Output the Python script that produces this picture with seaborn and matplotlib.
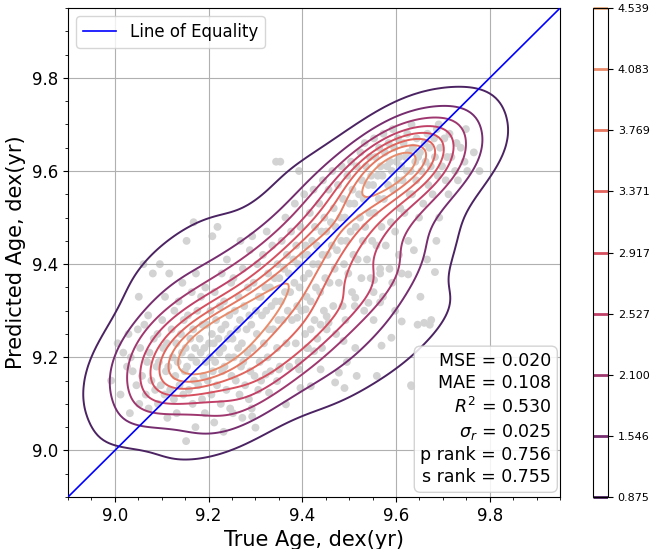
import numpy as np
import pandas as pd
import seaborn as sns
import matplotlib.pyplot as plt
from matplotlib.contour import ContourSet

# === Data (one line per 0.02-dex bin of true age) ===
true_age = [
    8.992, 9.006,
    9.012, 9.026, 9.018, 9.029,
    9.032, 9.046, 9.038, 9.049, 9.034,
    9.052, 9.066, 9.058, 9.069, 9.054, 9.063, 9.051, 9.061,
    9.072, 9.086, 9.078, 9.089, 9.074, 9.083, 9.071, 9.081,
    9.092, 9.106, 9.098, 9.109, 9.094, 9.103, 9.091, 9.101, 9.107, 9.096,
    9.112, 9.126, 9.118, 9.129, 9.114, 9.123, 9.111, 9.121, 9.127, 9.116,
    9.132, 9.146, 9.138, 9.149, 9.134, 9.143, 9.131, 9.141, 9.147, 9.136, 9.144,
    9.152, 9.166, 9.158, 9.169, 9.154, 9.163, 9.151, 9.161, 9.167, 9.156, 9.164, 9.153, 9.168,
    9.172, 9.186, 9.178, 9.189, 9.174, 9.183, 9.171, 9.181, 9.187, 9.176, 9.184, 9.173,
    9.192, 9.206, 9.198, 9.209, 9.194, 9.203, 9.191, 9.201, 9.207, 9.196, 9.204, 9.193, 9.208,
    9.212, 9.226, 9.218, 9.229, 9.214, 9.223, 9.211, 9.221, 9.227, 9.216, 9.224, 9.213, 9.228, 9.219,
    9.232, 9.246, 9.238, 9.249, 9.234, 9.243, 9.231, 9.241, 9.247, 9.236, 9.244, 9.233, 9.248, 9.239,
    9.252, 9.266, 9.258, 9.269, 9.254, 9.263, 9.251, 9.261, 9.267, 9.256, 9.264, 9.253, 9.268,
    9.272, 9.286, 9.278, 9.289, 9.274, 9.283, 9.271, 9.281, 9.287, 9.276, 9.284, 9.273, 9.288,
    9.292, 9.306, 9.298, 9.309, 9.294, 9.303, 9.291, 9.301, 9.307, 9.296, 9.304, 9.293,
    9.312, 9.326, 9.318, 9.329, 9.314, 9.323, 9.311, 9.321, 9.327, 9.316, 9.324,
    9.332, 9.346, 9.338, 9.349, 9.334, 9.343, 9.331, 9.341, 9.347, 9.336, 9.344,
    9.352, 9.366, 9.358, 9.369, 9.354, 9.363, 9.351, 9.361, 9.367, 9.356, 9.364, 9.353,
    9.372, 9.386, 9.378, 9.389, 9.374, 9.383, 9.371, 9.381, 9.387, 9.376, 9.384,
    9.392, 9.406, 9.398, 9.409, 9.394, 9.403, 9.391, 9.401, 9.407, 9.396, 9.404, 9.393,
    9.412, 9.426, 9.418, 9.429, 9.414, 9.423, 9.411, 9.421, 9.427, 9.416, 9.424,
    9.432, 9.446, 9.438, 9.449, 9.434, 9.443, 9.431, 9.441, 9.447, 9.436, 9.444,
    9.452, 9.466, 9.458, 9.469, 9.454, 9.463, 9.451, 9.461, 9.467, 9.456, 9.464,
    9.472, 9.486, 9.478, 9.489, 9.474, 9.483, 9.471, 9.481, 9.487, 9.476, 9.484,
    9.492, 9.506, 9.498, 9.509, 9.494, 9.503, 9.491, 9.501, 9.507, 9.496, 9.504,
    9.512, 9.526, 9.518, 9.529, 9.514, 9.523, 9.511, 9.521, 9.527, 9.516, 9.524,
    9.532, 9.546, 9.538, 9.549, 9.534, 9.543, 9.531, 9.541, 9.547, 9.536, 9.544, 9.533,
    9.552, 9.566, 9.558, 9.569, 9.554, 9.563, 9.551, 9.561, 9.567, 9.556, 9.564, 9.553,
    9.572, 9.586, 9.578, 9.589, 9.574, 9.583, 9.571, 9.581, 9.587, 9.576, 9.584, 9.573,
    9.592, 9.606, 9.598, 9.609, 9.594, 9.603, 9.591, 9.601, 9.607, 9.596, 9.604, 9.593,
    9.612, 9.626, 9.618, 9.629, 9.614, 9.623, 9.611, 9.621, 9.627, 9.616, 9.624,
    9.632, 9.646, 9.638, 9.649, 9.634, 9.643, 9.631, 9.641, 9.647, 9.636, 9.644, 9.633,
    9.652, 9.666, 9.658, 9.669, 9.654, 9.663, 9.651, 9.661, 9.667,
    9.672, 9.686, 9.678, 9.689, 9.674, 9.683, 9.671, 9.681, 9.687,
    9.692, 9.706, 9.698, 9.709, 9.694, 9.703, 9.691,
    9.712, 9.726, 9.718, 9.729, 9.714,
    9.732, 9.746, 9.738, 9.749,
    9.752, 9.766,
    9.778,
    # under-predicted group below the diagonal
    9.329, 9.293, 9.300, 9.393, 9.470, 9.516, 9.559, 9.490, 9.683, 9.675,
    9.660, 9.612, 9.590, 9.569, 9.513, 9.488, 9.442, 9.425, 9.410, 9.495,
    9.478, 9.439, 9.350, 9.322, 9.346, 9.396, 9.418, 9.365, 9.566, 9.633,
    9.566, 9.553, 9.626, 9.513, 9.541, 9.598, 9.552, 9.452, 9.456, 9.439,
    9.418, 9.389, 9.407,
]
pred_age = [
    9.15, 9.23,
    9.12, 9.18, 9.21, 9.25,
    9.08, 9.14, 9.17, 9.26, 9.20,
    9.10, 9.12, 9.16, 9.19, 9.22, 9.27, 9.33, 9.40,
    9.09, 9.13, 9.15, 9.18, 9.21, 9.24, 9.29, 9.38,
    9.10, 9.12, 9.14, 9.17, 9.19, 9.22, 9.25, 9.28, 9.33, 9.40,
    9.07, 9.11, 9.13, 9.16, 9.18, 9.20, 9.23, 9.26, 9.30, 9.38,
    9.08, 9.12, 9.14, 9.17, 9.19, 9.21, 9.23, 9.25, 9.28, 9.32, 9.36,
    9.02, 9.10, 9.13, 9.15, 9.18, 9.20, 9.22, 9.24, 9.26, 9.29, 9.34, 9.45, 9.49,
    9.05, 9.11, 9.14, 9.16, 9.19, 9.21, 9.22, 9.24, 9.27, 9.30, 9.33, 9.38,
    9.08, 9.12, 9.15, 9.17, 9.19, 9.20, 9.22, 9.23, 9.25, 9.27, 9.30, 9.35, 9.46,
    9.06, 9.10, 9.14, 9.17, 9.19, 9.21, 9.23, 9.24, 9.26, 9.28, 9.31, 9.34, 9.38, 9.48,
    9.04, 9.09, 9.13, 9.16, 9.18, 9.20, 9.22, 9.24, 9.25, 9.27, 9.29, 9.32, 9.36, 9.41,
    9.08, 9.12, 9.15, 9.18, 9.20, 9.22, 9.24, 9.26, 9.28, 9.30, 9.33, 9.37, 9.45,
    9.07, 9.11, 9.14, 9.17, 9.19, 9.21, 9.23, 9.26, 9.29, 9.31, 9.35, 9.39, 9.43,
    9.09, 9.13, 9.16, 9.19, 9.22, 9.25, 9.27, 9.30, 9.33, 9.36, 9.40, 9.46,
    9.15, 9.20, 9.23, 9.26, 9.29, 9.30, 9.33, 9.35, 9.38, 9.42, 9.47,
    9.17, 9.22, 9.26, 9.28, 9.31, 9.32, 9.35, 9.37, 9.40, 9.44, 9.62,
    9.18, 9.23, 9.28, 9.30, 9.32, 9.34, 9.37, 9.39, 9.42, 9.45, 9.50, 9.62,
    9.18, 9.23, 9.28, 9.31, 9.34, 9.36, 9.38, 9.41, 9.44, 9.47, 9.53,
    9.19, 9.25, 9.30, 9.33, 9.35, 9.37, 9.40, 9.42, 9.44, 9.48, 9.55, 9.60,
    9.22, 9.28, 9.32, 9.35, 9.38, 9.40, 9.42, 9.45, 9.48, 9.51, 9.56,
    9.24, 9.30, 9.34, 9.37, 9.40, 9.42, 9.44, 9.47, 9.50, 9.53, 9.58,
    9.26, 9.31, 9.36, 9.39, 9.42, 9.44, 9.47, 9.49, 9.52, 9.56, 9.60,
    9.25, 9.31, 9.36, 9.40, 9.43, 9.45, 9.48, 9.50, 9.54, 9.57, 9.61,
    9.28, 9.34, 9.38, 9.42, 9.45, 9.47, 9.50, 9.53, 9.56, 9.59, 9.62,
    9.31, 9.37, 9.41, 9.45, 9.48, 9.50, 9.53, 9.55, 9.58, 9.61, 9.64,
    9.30, 9.37, 9.41, 9.45, 9.48, 9.51, 9.54, 9.57, 9.59, 9.61, 9.63, 9.66,
    9.34, 9.39, 9.44, 9.48, 9.51, 9.54, 9.57, 9.59, 9.61, 9.63, 9.65, 9.67,
    9.33, 9.39, 9.44, 9.49, 9.54, 9.57, 9.59, 9.61, 9.62, 9.64, 9.66, 9.68,
    9.36, 9.42, 9.47, 9.52, 9.56, 9.58, 9.60, 9.62, 9.63, 9.65, 9.67, 9.69,
    9.38, 9.45, 9.51, 9.55, 9.58, 9.60, 9.61, 9.63, 9.64, 9.66, 9.68,
    9.14, 9.27, 9.43, 9.50, 9.55, 9.58, 9.60, 9.62, 9.63, 9.65, 9.67, 9.70,
    9.33, 9.41, 9.53, 9.57, 9.60, 9.62, 9.64, 9.66, 9.68,
    9.27, 9.45, 9.55, 9.59, 9.61, 9.63, 9.65, 9.67, 9.69,
    9.50, 9.58, 9.61, 9.63, 9.65, 9.67, 9.70,
    9.55, 9.60, 9.63, 9.66, 9.68,
    9.58, 9.62, 9.65, 9.69,
    9.60, 9.64,
    9.60,
    # under-predicted group below the diagonal
    9.124, 9.073, 9.049, 9.174, 9.146, 9.160, 9.160, 9.134, 9.383, 9.280,
    9.274, 9.277, 9.242, 9.225, 9.220, 9.235, 9.220, 9.213, 9.220, 9.190,
    9.167, 9.174, 9.174, 9.163, 9.149, 9.134, 9.138, 9.099, 9.318, 9.138,
    9.380, 9.366, 9.378, 9.328, 9.317, 9.300, 9.280, 9.288, 9.274, 9.270,
    9.260, 9.285, 9.303,
]
assert len(true_age) == len(pred_age)

# colour-bar labels as printed on the reference
cbar_labels = ["0.875", "1.546", "2.100", "2.527", "2.917", "3.371", "3.769", "4.083", "4.539"]

# summary numbers printed in the box
stat_names = ["MSE", "MAE", "$R^2$", r"$\sigma_r$", "p rank", "s rank"]
stat_values = [0.020, 0.108, 0.530, 0.025, 0.756, 0.755]

age_limits = (8.9, 9.95)

df = pd.DataFrame({"true": true_age, "pred": pred_age})

# === Figure ===
fig = plt.figure(figsize=(6.57, 5.49), dpi=100)
ax = fig.add_axes([0.1035, 0.0947, 0.749, 0.8907])
cax = fig.add_axes([0.9026, 0.0947, 0.0228, 0.8907])

sns.scatterplot(data=df, x="true", y="pred", color="lightgrey", s=32,
                edgecolor="none", ax=ax, zorder=1)

sns.kdeplot(data=df, x="true", y="pred", levels=9, cmap="flare_r",
            linewidths=1.4, cbar=True, cbar_ax=cax, ax=ax, zorder=2)

ax.plot(age_limits, age_limits, color="blue", lw=1.2, label="Line of Equality", zorder=3)

ax.set_xlim(age_limits)
ax.set_ylim(age_limits)
ax.set_xticks([9.0, 9.2, 9.4, 9.6, 9.8])
ax.set_yticks([9.0, 9.2, 9.4, 9.6, 9.8])
ax.minorticks_on()
ax.grid(True, which="major", color="#b0b0b0", lw=0.8)
ax.tick_params(labelsize=12)

ax.set_xlabel("True Age, dex(yr)", fontsize=15)
ax.set_ylabel("Predicted Age, dex(yr)", fontsize=15)
ax.legend(loc="upper left", fontsize=12)

# === Stats box ===
stats_text = "\n".join(f"{n} = {v:.3f}" for n, v in zip(stat_names, stat_values))
ax.text(0.982, 0.022, stats_text, transform=ax.transAxes, ha="right", va="bottom",
        fontsize=12.5, multialignment="right", linespacing=1.3, zorder=5,
        bbox=dict(boxstyle="round,pad=0.35", facecolor="white", edgecolor="#cccccc", alpha=0.85))

# === Colour bar ===
cs = [c for c in ax.collections if isinstance(c, ContourSet)][0]
cbar = cs.colorbar
if len(cs.levels) == len(cbar_labels):
    cbar.set_ticks(cs.levels, labels=cbar_labels)
cax.tick_params(labelsize=8)
for c in cax.collections:
    c.set_linewidth(2)

fig.savefig("out.png", dpi=100)
